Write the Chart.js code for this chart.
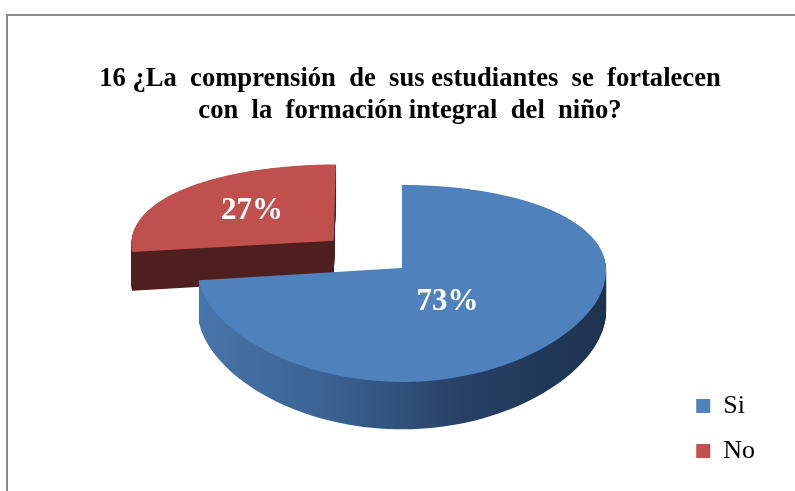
<!DOCTYPE html>
<html>
<head>
<meta charset="utf-8">
<script src="https://cdn.jsdelivr.net/npm/chart.js@4.4.1/dist/chart.umd.min.js"></script>
<style>
    html, body { margin: 0; padding: 0; background: #fff; }
    #wrap { width: 795px; height: 491px; }
</style>
</head>
<body>
<div id="wrap"><canvas id="pieChart"></canvas></div>
<script>
// ---- Data ----
const labels = ['Si', 'No'];
const values = [73, 27];
const valueLabels = ['73%', '27%'];
const titleLines = [
    '16 ¿La  comprensión  de  sus estudiantes  se  fortalecen',
    'con  la  formación integral  del  niño?'
];

const topColors = ['#4f81bd', '#c0504d'];
const sideColors = [['#4875aa', '#3a6192', '#263f63', '#1e324f'], ['#4e1f1e', '#4e1f1e']];

// ---- 3D pie (tilted + extruded) built from the arcs Chart.js computed ----
const pie3d = {
    id: 'pie3d',
    beforeDraw(chart, args, opts) {
        const ctx = chart.ctx;
        ctx.save();
        ctx.strokeStyle = '#8a8a8a';
        ctx.lineWidth = 2;
        ctx.beginPath();
        ctx.moveTo(7, chart.height + 5);
        ctx.lineTo(7, 15);
        ctx.lineTo(chart.width + 5, 15);
        ctx.stroke();
        ctx.restore();
    },
    beforeDatasetsDraw(chart, args, opts) {
        const ctx = chart.ctx;
        const meta = chart.getDatasetMeta(0);
        const { cx, cy, rx, ry, persp, perspX, depth } = opts;
        const scaleAt = (t, p) => 1 / (1 - p * t);
        const project = (u, t) => [cx + rx * u * scaleAt(t, perspX), cy + ry * t * scaleAt(t, persp)];

        const shapes = meta.data.map((arc, i) => {
            const { startAngle, endAngle } = arc.getProps(['startAngle', 'endAngle'], true);
            const mid = (startAngle + endAngle) / 2;
            const ex = opts.explode[i] || 0;
            const ou = Math.cos(mid) * ex, ot = Math.sin(mid) * ex;
            const pts = [[ou, ot]];
            const n = 120;
            for (let k = 0; k <= n; k++) {
                const a = startAngle + (endAngle - startAngle) * k / n;
                pts.push([ou + Math.cos(a), ot + Math.sin(a)]);
            }
            const [lr, shift] = opts.labelPos[i];
            const la = mid + shift * Math.PI / 180;
            return { pts, label: [ou + Math.cos(la) * lr, ot + Math.sin(la) * lr] };
        });

        const fillShape = (pts, shift) => {
            ctx.beginPath();
            pts.forEach(([u, t], k) => {
                const [x, y] = project(u, t);
                const dy = shift * depth * scaleAt(t, persp);
                if (k === 0) ctx.moveTo(x, y + dy); else ctx.lineTo(x, y + dy);
            });
            ctx.closePath();
            ctx.fill();
        };

        ctx.save();
        // back slices first
        for (let i = shapes.length - 1; i >= 0; i--) {
            const pts = shapes[i].pts;
            const stops = sideColors[i];
            const grad = ctx.createLinearGradient(cx - rx, 0, cx + rx, 0);
            stops.forEach((c, k) => grad.addColorStop(k / (stops.length - 1), c));
            ctx.fillStyle = grad;
            const layers = 60;
            for (let l = layers; l >= 1; l--) fillShape(pts, l / layers);
            ctx.fillStyle = topColors[i];
            fillShape(pts, 0);
        }

        ctx.fillStyle = '#ffffff';
        ctx.font = 'bold 31px "Liberation Serif", "Times New Roman", serif';
        ctx.textAlign = 'center';
        ctx.textBaseline = 'middle';
        shapes.forEach((s, i) => {
            const [x, y] = project(s.label[0], s.label[1]);
            ctx.fillText(valueLabels[i], x, y);
        });
        ctx.restore();
        return false;
    }
};

new Chart(document.getElementById('pieChart'), {
    type: 'pie',
    data: {
        labels: labels,
        datasets: [{
            data: values,
            backgroundColor: topColors,
            borderWidth: 0
        }]
    },
    options: {
        responsive: true,
        maintainAspectRatio: false,
        animation: false,
        layout: { padding: { left: 55, right: 30, top: 0, bottom: 8 } },
        plugins: {
            tooltip: { enabled: false },
            title: {
                display: true,
                text: titleLines,
                color: '#000',
                font: { family: '"Liberation Serif", "Times New Roman", serif', size: 26.6, weight: 'bold', lineHeight: 1.2 },
                padding: { top: 63, bottom: 10 }
            },
            legend: {
                position: 'right',
                align: 'end',
                labels: {
                    color: '#000',
                    boxWidth: 14,
                    boxHeight: 14,
                    padding: 19,
                    font: { family: '"Liberation Serif", "Times New Roman", serif', size: 26 }
                }
            },
            pie3d: {
                cx: 402, cy: 268, rx: 204, ry: 96, persp: 0.157, perspX: 0.03, depth: 40,
                explode: [0, 0.45],
                labelPos: [[0.4, 15], [0.55, 0]]
            }
        }
    },
    plugins: [pie3d]
});
</script>
</body>
</html>
